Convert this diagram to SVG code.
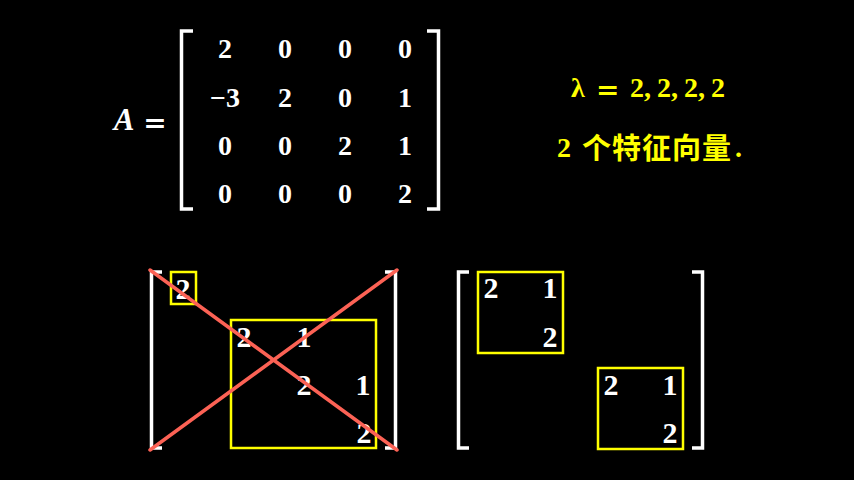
<svg xmlns="http://www.w3.org/2000/svg" width="854" height="480" viewBox="0 0 854 480">
<style>
.m{font-family:"Liberation Serif","DejaVu Serif",serif;font-weight:bold;font-size:28px;fill:#fff;text-anchor:middle}
.s{font-family:"Liberation Serif","DejaVu Serif",serif;font-weight:bold;font-size:30px;fill:#fff;text-anchor:middle}
.y{font-family:"Liberation Serif","DejaVu Serif",serif;font-weight:bold;font-size:28px;fill:#ffff00}
.eq{font-family:"DejaVu Serif",serif;font-size:28px}
.c{font-family:"Noto Sans CJK SC","Noto Sans CJK JP",sans-serif;font-weight:bold;font-size:29px;fill:#ffff00}
.br{fill:none;stroke:#fff;stroke-width:3.5}
.bx{fill:none;stroke:#ffff00;stroke-width:2.5}
.x{stroke:#fc6255;stroke-width:3.5;stroke-linecap:round}
</style>
<rect width="854" height="480" fill="#000"/>
<g id="matrixA">
<text x="124" y="130" class="m" style="font-style:italic;font-size:31px">A</text>
<text x="155" y="132" class="m eq" style="fill:#fff">=</text>
<path class="br" d="M193,31 H181.5 V209 H193"/>
<path class="br" d="M427,31 H438.5 V209 H427"/>
<text x="225" y="58" class="m">2</text><text x="285" y="58" class="m">0</text><text x="345" y="58" class="m">0</text><text x="405" y="58" class="m">0</text>
<text x="225" y="107" class="m">−3</text><text x="285" y="107" class="m">2</text><text x="345" y="107" class="m">0</text><text x="405" y="107" class="m">1</text>
<text x="225" y="155" class="m">0</text><text x="285" y="155" class="m">0</text><text x="345" y="155" class="m">2</text><text x="405" y="155" class="m">1</text>
<text x="225" y="203" class="m">0</text><text x="285" y="203" class="m">0</text><text x="345" y="203" class="m">0</text><text x="405" y="203" class="m">2</text>
</g>
<g id="eigen">
<text x="571" y="97" class="y">λ</text>
<text x="596" y="99" class="y eq">=</text>
<text x="630" y="97" class="y">2,</text>
<text x="657" y="97" class="y">2,</text>
<text x="684" y="97" class="y">2,</text>
<text x="711" y="97" class="y">2</text>
<text x="557" y="157" class="y">2</text>
<text x="582" y="159" class="c" letter-spacing="1">个特征向量</text>
<text x="735" y="157" class="y">.</text>
</g>
<g id="crossedMatrix">
<path class="br" d="M162,272 H151.5 V448 H162"/>
<path class="br" d="M385,272 H395.5 V448 H385"/>
<rect class="bx" x="171" y="272" width="25" height="32"/>
<rect class="bx" x="231" y="320" width="145" height="128"/>
<text x="183" y="299" class="s">2</text>
<text x="244" y="347" class="s">2</text><text x="304" y="347" class="s">1</text>
<text x="304" y="395" class="s">2</text><text x="363" y="395" class="s">1</text>
<text x="364" y="443" class="s">2</text>
</g>
<g id="connectors">
<line class="x" x1="150" y1="270" x2="397" y2="450"/>
<line class="x" x1="397" y1="270" x2="150" y2="450"/>
</g>
<g id="blockMatrix">
<path class="br" d="M469,272 H458.5 V448 H469"/>
<path class="br" d="M692,272 H702.5 V448 H692"/>
<rect class="bx" x="478" y="272" width="85" height="81"/>
<rect class="bx" x="598" y="368" width="85" height="81"/>
<text x="491" y="298" class="s">2</text><text x="550" y="298" class="s">1</text>
<text x="550" y="347" class="s">2</text>
<text x="611" y="395" class="s">2</text><text x="670" y="395" class="s">1</text>
<text x="670" y="443" class="s">2</text>
</g>
</svg>
